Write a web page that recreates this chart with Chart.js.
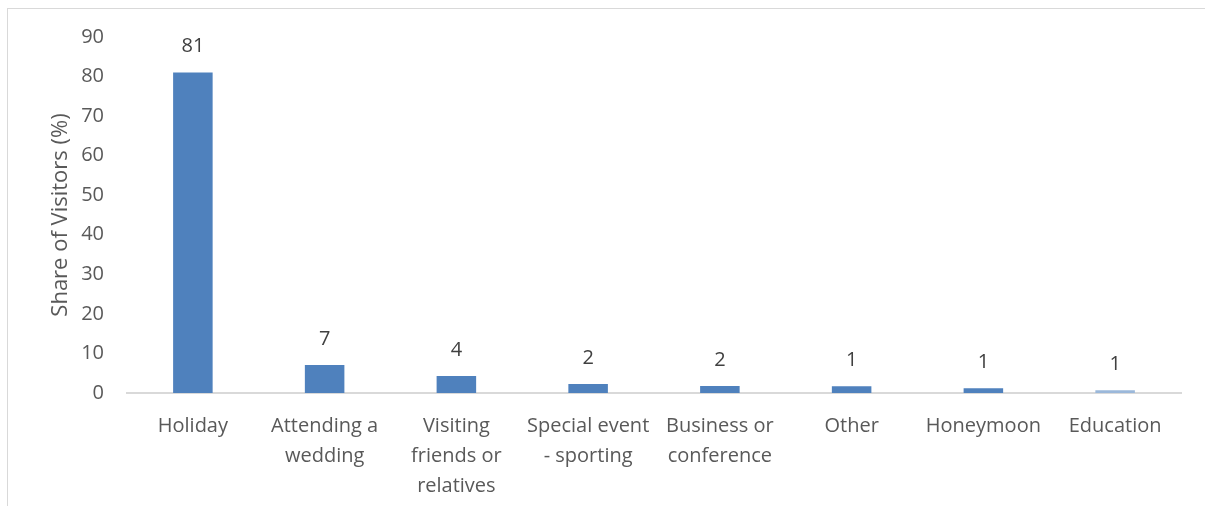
<!DOCTYPE html>
<html lang="en">
<head>
  <meta charset="UTF-8">
  <title>Share of Visitors by Purpose</title>
  <script src="https://cdn.jsdelivr.net/npm/chart.js"></script>
  <style>
    * { box-sizing: border-box; margin: 0; padding: 0; }
    body { width: 1205px; height: 506px; background: #fff; overflow: hidden; position: relative; }
    .frame {
      position: absolute; left: 7px; top: 8px; width: 1220px; height: 520px;
      border-left: 1px solid #d9d9d9; border-top: 1px solid #d9d9d9;
    }
    .wrap { position: absolute; left: 0; top: 0; width: 1205px; height: 506px; }
  </style>
</head>
<body>
<div class="frame"></div>
<div class="wrap"><canvas id="purposeChart"></canvas></div>

<script>
  const categories = [
    'Holiday',
    ['Attending a', 'wedding'],
    ['Visiting', 'friends or', 'relatives'],
    ['Special event', '- sporting'],
    ['Business or', 'conference'],
    'Other',
    'Honeymoon',
    'Education'
  ];
  const shares = [81, 7.1, 4.3, 2.3, 1.8, 1.7, 1.2, 0.7];
  const shareLabels = ['81', '7', '4', '2', '2', '1', '1', '1'];
  const barColors = ['#4f81bd', '#4f81bd', '#4f81bd', '#4f81bd', '#4f81bd', '#4f81bd', '#4f81bd', '#9bb8da'];
  const yTicks = [0, 10, 20, 30, 40, 50, 60, 70, 80, 90];

  const fontFamily = "'Open Sans', 'Liberation Sans', sans-serif";

  // value labels above the bars
  const valueLabels = {
    id: 'valueLabels',
    afterDatasetsDraw(chart) {
      const ctx = chart.ctx;
      const meta = chart.getDatasetMeta(0);
      ctx.save();
      ctx.font = '20px ' + fontFamily;
      ctx.fillStyle = '#404040';
      ctx.textAlign = 'center';
      ctx.textBaseline = 'middle';
      meta.data.forEach((bar, i) => {
        ctx.fillText(shareLabels[i], bar.x, bar.y - 26);
      });
      ctx.restore();
    }
  };

  const ctx = document.getElementById('purposeChart').getContext('2d');
  new Chart(ctx, {
    type: 'bar',
    data: {
      labels: categories,
      datasets: [{
        data: shares,
        backgroundColor: barColors,
        barPercentage: 0.3,
        categoryPercentage: 1
      }]
    },
    options: {
      responsive: true,
      maintainAspectRatio: false,
      animation: false,
      layout: { padding: { left: 44, top: 37, right: 24, bottom: 0 } },
      plugins: {
        legend: { display: false },
        tooltip: { enabled: false }
      },
      scales: {
        x: {
          grid: { display: false },
          border: { display: true, color: '#d9d9d9', width: 2 },
          ticks: {
            color: '#595959',
            font: { family: fontFamily, size: 20, lineHeight: 1.5 },
            padding: 10,
            maxRotation: 0,
            autoSkip: false
          },
          afterFit(scale) { scale.height = 113; }
        },
        y: {
          min: 0,
          max: 90,
          afterBuildTicks(scale) { scale.ticks = yTicks.map(v => ({ value: v })); },
          grid: { display: false },
          border: { display: false },
          ticks: {
            color: '#595959',
            font: { family: fontFamily, size: 20 },
            padding: 15
          },
          title: {
            display: true,
            text: 'Share of Visitors (%)',
            color: '#595959',
            font: { family: fontFamily, size: 22 }
          },
          afterFit(scale) { scale.width = 83; }
        }
      }
    },
    plugins: [valueLabels]
  });
</script>
</body>
</html>
